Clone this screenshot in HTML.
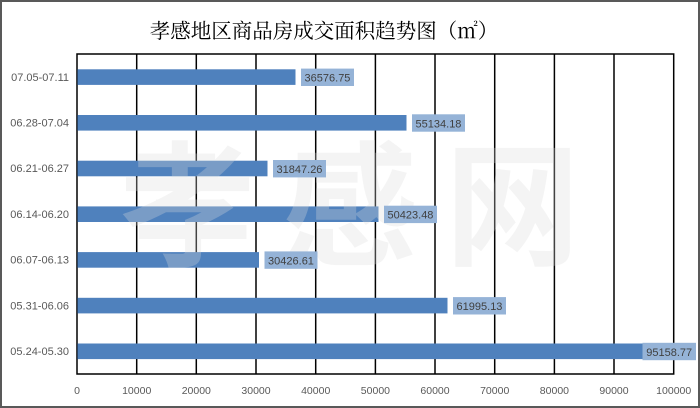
<!DOCTYPE html>
<html><head><meta charset="utf-8"><style>
html,body{margin:0;padding:0;background:#fff;}
svg{display:block;}
</style></head><body>
<svg width="700" height="408" viewBox="0 0 700 408" xmlns="http://www.w3.org/2000/svg">
<rect x="0" y="0" width="700" height="408" fill="#fff"/>
<rect x="1" y="1" width="698" height="406" fill="none" stroke="#595959" stroke-width="2"/>
<text x="324" y="38" text-anchor="middle" font-family="'Liberation Serif','Noto Serif CJK SC',serif" font-size="20.5" fill="#000">孝感地区商品房成交面积趋势图（㎡）</text>
<g stroke="#000" stroke-width="1.5">
<line x1="136.7" y1="54" x2="136.7" y2="374"/>
<line x1="196.3" y1="54" x2="196.3" y2="374"/>
<line x1="256" y1="54" x2="256" y2="374"/>
<line x1="315.7" y1="54" x2="315.7" y2="374"/>
<line x1="375.4" y1="54" x2="375.4" y2="374"/>
<line x1="435" y1="54" x2="435" y2="374"/>
<line x1="494.7" y1="54" x2="494.7" y2="374"/>
<line x1="554.4" y1="54" x2="554.4" y2="374"/>
<line x1="614" y1="54" x2="614" y2="374"/>
<rect x="77" y="54" width="596.7" height="320" fill="none"/>
</g>
<g fill="#4f81bd">
<rect x="77.5" y="69.3" width="218" height="15.6"/>
<rect x="77.5" y="115" width="329" height="15.6"/>
<rect x="77.5" y="160.7" width="190" height="15.6"/>
<rect x="77.5" y="206.4" width="301" height="15.6"/>
<rect x="77.5" y="252.1" width="181.5" height="15.6"/>
<rect x="77.5" y="297.8" width="370" height="15.6"/>
<rect x="77.5" y="343.5" width="567.3" height="15.6"/>
</g>
<text x="350" y="255" text-anchor="middle" textLength="460" lengthAdjust="spacing" font-family="'Noto Sans CJK SC',sans-serif" font-weight="bold" font-size="135" fill="#dcdcdc" fill-opacity="0.3">孝感网</text>
<g fill="#95b3d7">
<rect x="301" y="68.6" width="53" height="17.4"/>
<rect x="412" y="114.3" width="53" height="17.4"/>
<rect x="273" y="160" width="53" height="17.4"/>
<rect x="384" y="205.7" width="53" height="17.4"/>
<rect x="264.5" y="251.4" width="53" height="17.4"/>
<rect x="453" y="297.1" width="53" height="17.4"/>
<rect x="642.5" y="342.8" width="53.5" height="17.4"/>
</g>
<g font-family="'Liberation Sans',sans-serif" font-size="11" fill="#404040" text-anchor="middle">
<text x="327.5" y="81.6">36576.75</text>
<text x="438.5" y="127.3">55134.18</text>
<text x="299.5" y="173">31847.26</text>
<text x="410.5" y="218.7">50423.48</text>
<text x="291" y="264.4">30426.61</text>
<text x="479.5" y="310.1">61995.13</text>
<text x="669.2" y="355.8">95158.77</text>
</g>
<g font-family="'Liberation Sans',sans-serif" font-size="11" fill="#595959" text-anchor="end">
<text x="69" y="80.8">07.05-07.11</text>
<text x="69" y="126.5">06.28-07.04</text>
<text x="69" y="172.2">06.21-06.27</text>
<text x="69" y="217.9">06.14-06.20</text>
<text x="69" y="263.6">06.07-06.13</text>
<text x="69" y="309.3">05.31-06.06</text>
<text x="69" y="355">05.24-05.30</text>
</g>
<g font-family="'Liberation Sans',sans-serif" font-size="10.5" fill="#595959" text-anchor="middle">
<text x="77" y="394">0</text>
<text x="136.7" y="394">10000</text>
<text x="196.3" y="394">20000</text>
<text x="256" y="394">30000</text>
<text x="315.7" y="394">40000</text>
<text x="375.4" y="394">50000</text>
<text x="435" y="394">60000</text>
<text x="494.7" y="394">70000</text>
<text x="554.4" y="394">80000</text>
<text x="614" y="394">90000</text>
<text x="673.7" y="394">100000</text>
</g>
</svg>
</body></html>
